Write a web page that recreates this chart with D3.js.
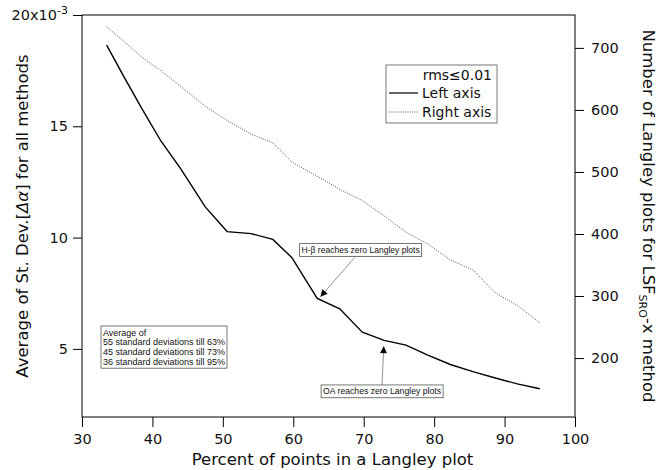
<!DOCTYPE html>
<html>
<head>
<meta charset="utf-8">
<script src="https://cdn.jsdelivr.net/npm/d3@7"></script>
<style>
  body { margin: 0; background: #fff; }
  svg { display: block; }
  text { font-family: "DejaVu Sans", sans-serif; fill: #111; }
  .note text { font-family: "Liberation Sans", Arial, sans-serif; font-size: 9.2px; }
</style>
</head>
<body>
<svg id="chart" width="670" height="470"></svg>
<script>
// percent of points in a Langley plot
const percent = [33.5, 36.0, 38.4, 41.2, 44.0, 47.5, 50.6, 54.0, 57.1, 59.8, 63.4,
  66.6, 69.8, 72.9, 76.0, 79.1, 82.3, 85.5, 88.7, 91.8, 95.0];
// average st. dev. (x10^-3), left axis
const stdDev = [18.65, 17.2, 15.85, 14.34, 13.1, 11.38, 10.27, 10.18, 9.92, 9.1, 7.27,
  6.8, 5.75, 5.38, 5.17, 4.72, 4.3, 3.98, 3.69, 3.43, 3.21];
// number of Langley plots, right axis
const nPlots = [734, 710, 686, 663, 638, 606, 583, 561, 547, 516, 493,
  472, 454, 429, 403, 384, 358, 342, 305, 285, 257];

const xTicks = [30, 40, 50, 60, 70, 80, 90, 100];
const leftTicks = [5, 10, 15, 20];
const rightTicks = [200, 300, 400, 500, 600, 700];
const avgLines = ['Average of', '55 standard deviations till 63%',
  '45 standard deviations till 73%', '36 standard deviations till 95%'];

const svg = d3.select('#chart');
const m = { left: 82, right: 575, top: 15, bottom: 417 };
const titleSize = 16.5;

const x = d3.scaleLinear().domain([30, 100]).range([m.left, m.right]);
const yL = d3.scaleLinear().domain([1.94, 20]).range([m.bottom, m.top]);
const yR = d3.scaleLinear().domain([105, 753]).range([m.bottom, m.top]);

// arrow marker
svg.append('defs').append('marker')
  .attr('id', 'head')
  .attr('viewBox', '0 0 10 10')
  .attr('refX', 10).attr('refY', 5)
  .attr('markerWidth', 9).attr('markerHeight', 7)
  .attr('markerUnits', 'userSpaceOnUse')
  .attr('orient', 'auto')
  .append('path').attr('d', 'M0,0L10,5L0,10Z').attr('fill', '#000');

// axes
const bottomAxis = svg.append('g')
  .attr('transform', `translate(0,${m.bottom})`)
  .call(d3.axisBottom(x).tickValues(xTicks).tickSize(10).tickPadding(7));
const leftAxis = svg.append('g')
  .attr('transform', `translate(${m.left},0)`)
  .call(d3.axisLeft(yL).tickValues(leftTicks).tickSize(9).tickPadding(5)
    .tickFormat((d) => d === 20 ? '' : d));
const rightAxis = svg.append('g')
  .attr('transform', `translate(${m.right},0)`)
  .call(d3.axisRight(yR).tickValues(rightTicks).tickSize(9).tickPadding(7));

[bottomAxis, leftAxis, rightAxis].forEach((g) => {
  g.select('.domain').remove();
  g.selectAll('line').attr('stroke', '#000');
  g.selectAll('text').attr('font-family', '"DejaVu Sans", sans-serif')
    .attr('font-size', 14.5).attr('fill', '#111');
});

// "20x10^-3" label
const topLabel = leftAxis.selectAll('.tick').filter((d) => d === 20).select('text').text(null);
topLabel.append('tspan').text('20x10');
topLabel.append('tspan').attr('dy', -6).attr('font-size', 11).text('-3');

// frame
svg.append('rect')
  .attr('x', m.left).attr('y', m.top)
  .attr('width', m.right - m.left).attr('height', m.bottom - m.top)
  .attr('fill', 'none').attr('stroke', '#000').attr('stroke-width', 1);

// series
const pts = percent.map((p, i) => ({ p, s: stdDev[i], n: nPlots[i] }));

svg.append('path').datum(pts)
  .attr('fill', 'none').attr('stroke', '#555').attr('stroke-width', 1)
  .attr('stroke-dasharray', '1,1.3')
  .attr('d', d3.line().x((d) => x(d.p)).y((d) => yR(d.n)));

svg.append('path').datum(pts)
  .attr('fill', 'none').attr('stroke', '#000').attr('stroke-width', 1.4)
  .attr('d', d3.line().x((d) => x(d.p)).y((d) => yL(d.s)));

// axis titles
svg.append('text')
  .attr('text-anchor', 'middle').attr('font-size', titleSize)
  .attr('x', (m.left + m.right) / 2 + 4).attr('y', 465)
  .text('Percent of points in a Langley plot');

const lt = svg.append('text')
  .attr('text-anchor', 'middle').attr('font-size', titleSize)
  .attr('transform', `translate(28,${(m.top + m.bottom) / 2}) rotate(-90)`);
lt.append('tspan').text('Average of St. Dev.[');
lt.append('tspan').attr('font-style', 'italic').text('Δα');
lt.append('tspan').text('] for all methods');

const rt = svg.append('text')
  .attr('text-anchor', 'middle').attr('font-size', titleSize)
  .attr('transform', `translate(643,${(m.top + m.bottom) / 2}) rotate(90)`);
rt.append('tspan').text('Number of Langley plots for LSF');
rt.append('tspan').attr('dy', 4).attr('font-size', 11).text('SRO');
rt.append('tspan').attr('dy', -4).text('-x method');

// legend
const lg = svg.append('g').attr('transform', 'translate(386,65)');
lg.append('rect').attr('width', 111).attr('height', 58)
  .attr('fill', '#fff').attr('stroke', '#555').attr('stroke-width', 0.8);
lg.append('text').attr('x', 106).attr('y', 15).attr('text-anchor', 'end')
  .attr('font-size', 14).text('rms≤0.01');
lg.append('line').attr('x1', 3).attr('x2', 32).attr('y1', 28).attr('y2', 28)
  .attr('stroke', '#000').attr('stroke-width', 1.2);
lg.append('text').attr('x', 36).attr('y', 33).attr('font-size', 14).text('Left axis');
lg.append('line').attr('x1', 3).attr('x2', 32).attr('y1', 47).attr('y2', 47)
  .attr('stroke', '#555').attr('stroke-width', 1).attr('stroke-dasharray', '1,1.3');
lg.append('text').attr('x', 36).attr('y', 52).attr('font-size', 14).text('Right axis');

// annotation boxes
function note(x0, y0, lines, w) {
  const g = svg.append('g').attr('class', 'note');
  const h = lines.length * 9.8 + 3;
  g.append('rect').attr('x', x0).attr('y', y0).attr('width', w).attr('height', h)
    .attr('fill', '#fff').attr('stroke', '#555').attr('stroke-width', 0.8);
  const texts = lines.map((t, i) =>
    g.append('text').attr('x', x0 + 2).attr('y', y0 + 9.5 + i * 9.8).text(t));
  const widest = d3.max(texts, (t) => t.node().getComputedTextLength());
  if (widest > w - 4) {
    const fs = 9.2 * (w - 4) / widest;
    texts.forEach((t) => t.style('font-size', fs + 'px'));
  }
}
function arrow(p0, p1) {
  svg.append('line')
    .attr('x1', x(p0[0])).attr('y1', yL(p0[1]))
    .attr('x2', x(p1[0])).attr('y2', yL(p1[1]))
    .attr('stroke', '#777').attr('stroke-width', 0.8)
    .attr('marker-end', 'url(#head)');
}

arrow([68.7, 9.1], [63.85, 7.34]);
arrow([72.6, 3.38], [72.85, 5.12]);
note(x(60.9), yL(9.73), ['H-β reaches zero Langley plots'], 122);
note(x(63.95), yL(3.38), ['OA reaches zero Langley plots'], 122);
note(101, 326, avgLines, 126);
</script>
</body>
</html>
